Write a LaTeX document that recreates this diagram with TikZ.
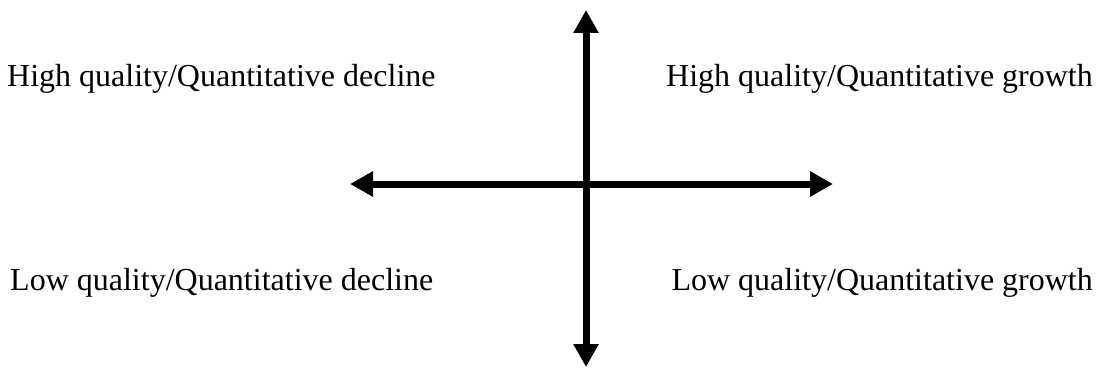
\documentclass[tikz,border=0pt]{standalone}
\usepackage{fontspec}
\setmainfont{Liberation Serif}
\usetikzlibrary{arrows.meta,positioning}

\begin{document}
\begin{tikzpicture}[
  x=1pt,y=-1pt,
  axis/.style={line width=7pt,
               {Triangle[length=23pt,width=24pt]}-{Triangle[length=23pt,width=24pt]}},
  quadrant/.style={inner sep=0pt,font=\fontsize{32}{38}\selectfont}
]
\useasboundingbox (0,0) rectangle (1099,369);
\coordinate (top) at (586,10);
\coordinate (bottom) at (586,367);
\coordinate (left) at (350,184);
\coordinate (right) at (833,184);

\node[quadrant,anchor=base west] (hidecl) at (7,86) {High quality/Quantitative decline};
\node[quadrant,anchor=base east] (higrow) at (1093,86) {High quality/Quantitative growth};
\node[quadrant,anchor=base west] (lodecl) at (10,290) {Low quality/Quantitative decline};
\node[quadrant,anchor=base east] (logrow) at (1093,290) {Low quality/Quantitative growth};

\draw[axis] (bottom) -- (top);
\draw[axis] (left) -- (right);
\end{tikzpicture}
\end{document}
